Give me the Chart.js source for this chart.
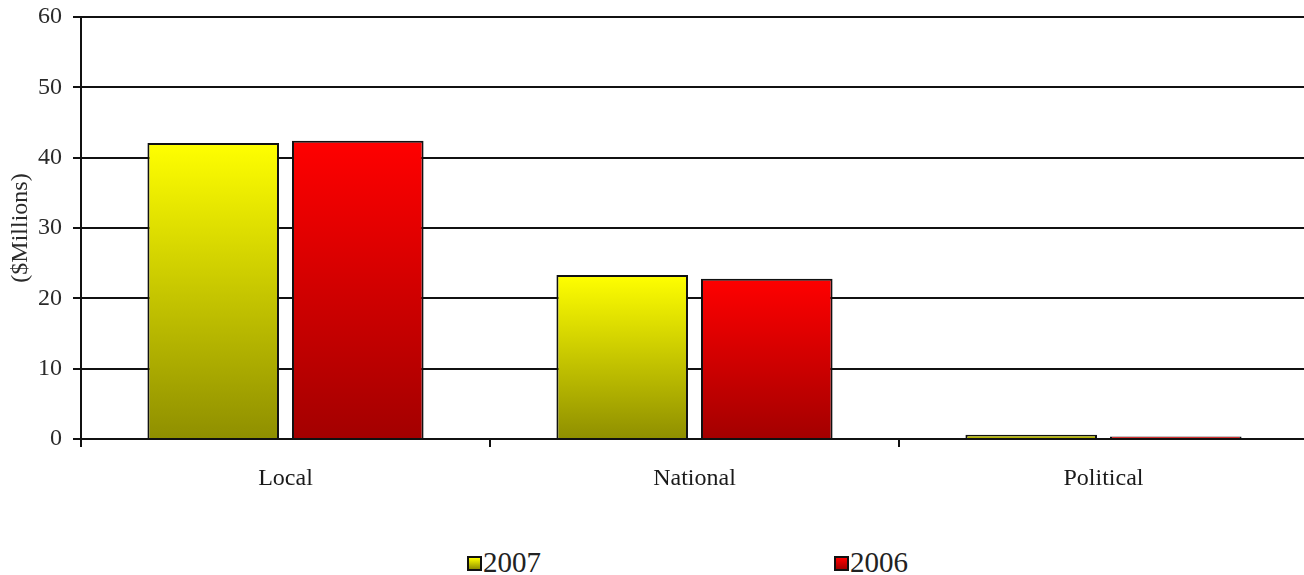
<!DOCTYPE html>
<html>
<head>
<meta charset="utf-8">
<script src="https://cdn.jsdelivr.net/npm/chart.js@4/dist/chart.umd.min.js"></script>
<style>
  html, body { margin: 0; padding: 0; background: #fff; overflow: hidden; }
  #wrap { position: relative; width: 1304px; height: 575px; overflow: hidden; }
  #c { position: absolute; left: 0; top: 0; }
  .leg { position: absolute; top: 546px; font-family: "Liberation Serif", serif; font-size: 29px; line-height: 32px; color: #222; display: flex; align-items: center; }
  .leg span.box { display: inline-block; width: 11px; height: 11px; border: 2px solid #111; margin-right: 1px; margin-top: 2px; }
</style>
</head>
<body>
<div id="wrap">
  <canvas id="c" width="1308" height="520"></canvas>
  <div id="legend"></div>
</div>
<script>
const categories = ["Local", "National", "Political"];
const seriesLabels = ["2007", "2006"];
const values2007 = [42.1, 23.3, 0.6];
const values2006 = [42.4, 22.8, 0.35];
const yTicks = [0, 10, 20, 30, 40, 50, 60];

const topColors = ["#ffff00", "#ff0000"];
const bottomColors = ["#8f8f00", "#a30000"];

function barGradient(ctx, dsIndex) {
  const chart = ctx.chart;
  const y = chart.scales && chart.scales.y;
  if (ctx.type !== 'data' || !y || !chart.chartArea) return topColors[dsIndex];
  const v = ctx.raw;
  const yTop = y.getPixelForValue(v);
  const yBot = y.getPixelForValue(0);
  if (!isFinite(yTop) || !isFinite(yBot) || yTop === yBot) return topColors[dsIndex];
  const g = chart.ctx.createLinearGradient(0, yTop, 0, yBot);
  g.addColorStop(0, topColors[dsIndex]);
  g.addColorStop(1, bottomColors[dsIndex]);
  return g;
}

const serif = "'Liberation Serif', 'Times New Roman', serif";

new Chart(document.getElementById('c'), {
  type: 'bar',
  data: {
    labels: categories,
    datasets: [
      { label: seriesLabels[0], data: values2007, backgroundColor: (c) => barGradient(c, 0),
        borderColor: '#111', borderWidth: 2, categoryPercentage: 0.707, barPercentage: 0.91 },
      { label: seriesLabels[1], data: values2006, backgroundColor: (c) => barGradient(c, 1),
        borderColor: '#111', borderWidth: 2, categoryPercentage: 0.707, barPercentage: 0.91 }
    ]
  },
  options: {
    responsive: false,
    animation: false,
    layout: { padding: { top: 17, right: 0, bottom: 0, left: 0 } },
    plugins: { legend: { display: false }, tooltip: { enabled: false } },
    scales: {
      x: {
        offset: true,
        afterFit: (s) => { s.height = 81; s.paddingLeft = 0; s.paddingRight = 0; },
        grid: { display: true, drawOnChartArea: false, drawTicks: true, tickLength: 8, color: '#111', lineWidth: 2, offset: true },
        border: { display: true, color: '#111', width: 2 },
        ticks: { font: { family: serif, size: 24 }, color: '#1a1a1a', padding: 17 }
      },
      y: {
        min: 0, max: 60,
        afterFit: (s) => { s.width = 81; s.paddingTop = 0; s.paddingBottom = 0; },
        afterBuildTicks: (s) => { s.ticks = yTicks.map(v => ({ value: v })); },
        grid: { color: '#111', lineWidth: 2, drawTicks: true, tickLength: 8 },
        border: { display: true, color: '#111', width: 2 },
        ticks: { font: { family: serif, size: 24 }, color: '#2a2a2a', padding: 11 },
        title: { display: true, text: '($Millions)', font: { family: serif, size: 24 }, color: '#2a2a2a', padding: { top: 6, bottom: 0 } }
      }
    }
  }
});

// HTML legend built from dataset labels
const legend = document.getElementById('legend');
const legendX = [467, 834];
seriesLabels.forEach((lab, i) => {
  const d = document.createElement('div');
  d.className = 'leg';
  d.style.left = legendX[i] + 'px';
  const b = document.createElement('span');
  b.className = 'box';
  b.style.background = `linear-gradient(${topColors[i]}, ${bottomColors[i]})`;
  d.appendChild(b);
  d.appendChild(document.createTextNode(lab));
  legend.appendChild(d);
});
</script>
</body>
</html>
